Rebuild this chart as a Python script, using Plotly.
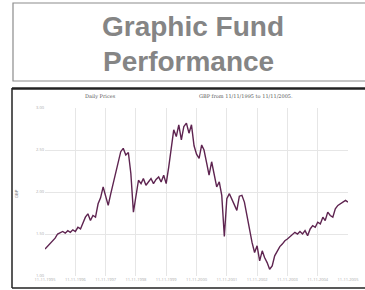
import plotly.graph_objects as go
import pandas as pd

# monthly closing prices (GBP), 11/1995 .. 11/2005
prices = [
    1.32, 1.35, 1.38, 1.42, 1.45, 1.50, 1.52, 1.53, 1.51, 1.54, 1.52, 1.55,
    1.53, 1.58, 1.56, 1.62, 1.70, 1.74, 1.66, 1.72, 1.70, 1.86, 1.93, 2.06,
    1.96, 1.84, 1.98, 2.10, 2.22, 2.36, 2.48, 2.52, 2.44, 2.47, 2.22, 1.76,
    1.95, 2.14, 2.10, 2.16, 2.08, 2.12, 2.16, 2.10, 2.15, 2.18, 2.12, 2.20,
    2.10, 2.30, 2.55, 2.74, 2.66, 2.80, 2.62, 2.78, 2.82, 2.70, 2.80, 2.55,
    2.45, 2.40, 2.56, 2.50, 2.35, 2.20, 2.36, 2.20, 2.06, 2.12, 1.96, 1.47,
    1.92, 1.98, 1.90, 1.85, 1.78, 1.95, 1.96, 1.88, 1.72, 1.55, 1.40, 1.28,
    1.36, 1.18, 1.30, 1.22, 1.16, 1.08, 1.12, 1.24, 1.30, 1.35, 1.38, 1.42,
    1.44, 1.47, 1.50, 1.52, 1.50, 1.53, 1.50, 1.54, 1.48, 1.56, 1.60, 1.58,
    1.64, 1.62, 1.70, 1.66, 1.76, 1.72, 1.70, 1.80, 1.84, 1.86, 1.88, 1.90,
    1.88,
]
dates = pd.date_range("1995-11-11", periods=len(prices), freq="MS") + pd.Timedelta(days=10)
x_ticks = pd.date_range("1995-11-11", periods=11, freq="12MS") + pd.Timedelta(days=10)
x_tick_labels = ["11-11-%d" % y for y in range(1995, 2006)]
y_ticks = [1.00, 1.50, 2.00, 2.50, 3.00]
y_tick_labels = ["1.00", "1.50", "2.00", "2.50", "3.00"]

L, R, T, B = 45, 17, 108, 14
W, H = 365, 290
pw, ph = W - L - R, H - T - B

def px(x):
    return (x - L) / pw

def py(y):
    return (H - B - y) / ph

fig = go.Figure()
fig.add_trace(go.Scatter(x=dates, y=prices, mode="lines",
                         line=dict(color="#5e2450", width=1.4), hoverinfo="skip"))

fig.update_layout(
    width=W, height=H, margin=dict(l=L, r=R, t=T, b=B),
    paper_bgcolor="white", plot_bgcolor="white", showlegend=False,
    xaxis=dict(tickvals=x_ticks, ticktext=x_tick_labels, range=[x_ticks[0], x_ticks[-1]],
               showgrid=True, gridcolor="#e6e6e6", gridwidth=1, zeroline=False, automargin=False,
               tickfont=dict(size=4, color="#aaaaaa"), ticks="", showline=False),
    yaxis=dict(tickvals=y_ticks, ticktext=y_tick_labels, range=[1.0, 3.0],
               showgrid=True, gridcolor="#e6e6e6", gridwidth=1, zeroline=False, automargin=False,
               tickfont=dict(size=4, color="#aaaaaa"), ticks="", showline=False),
)

shapes = [
    # title box
    dict(type="rect", xref="paper", yref="paper", x0=px(13), x1=px(367), y0=py(81), y1=py(3),
         line=dict(color="#8c8c8c", width=1.2), fillcolor="rgba(0,0,0,0)", layer="above"),
    # chart box
    dict(type="line", xref="paper", yref="paper", x0=px(12), x1=px(367), y0=py(88.5), y1=py(88.5),
         line=dict(color="#222222", width=2.5)),
    dict(type="line", xref="paper", yref="paper", x0=px(12), x1=px(12), y0=py(88), y1=py(288),
         line=dict(color="#222222", width=1.5)),
    dict(type="line", xref="paper", yref="paper", x0=px(12), x1=px(367), y0=py(288), y1=py(288),
         line=dict(color="#222222", width=1.5)),
]
fig.update_layout(shapes=shapes)

font = "Liberation Sans, Arial, sans-serif"
ann = [
    dict(text="<b>Graphic Fund</b>", x=px(193), y=py(27), font=dict(size=28, color="#858585", family=font)),
    dict(text="<b>Performance</b>", x=px(188), y=py(61), font=dict(size=28, color="#858585", family=font)),
    dict(text="Daily Prices", x=px(100), y=py(96), font=dict(size=5, color="#555555", family="DejaVu Serif")),
    dict(text="GBP from 11/11/1995 to 11/11/2005.", x=px(246), y=py(96),
         font=dict(size=5, color="#555555", family="DejaVu Serif")),
    dict(text="GBP", x=px(16), y=py(193), textangle=-90, font=dict(size=4, color="#777777", family=font)),
]
for a in ann:
    a.update(xref="paper", yref="paper", showarrow=False, xanchor="center", yanchor="middle")
fig.update_layout(annotations=ann)

fig.write_html("out.html", config={"displayModeBar": False},
               post_script="document.body.style.margin='0';document.body.style.overflow='hidden';")
